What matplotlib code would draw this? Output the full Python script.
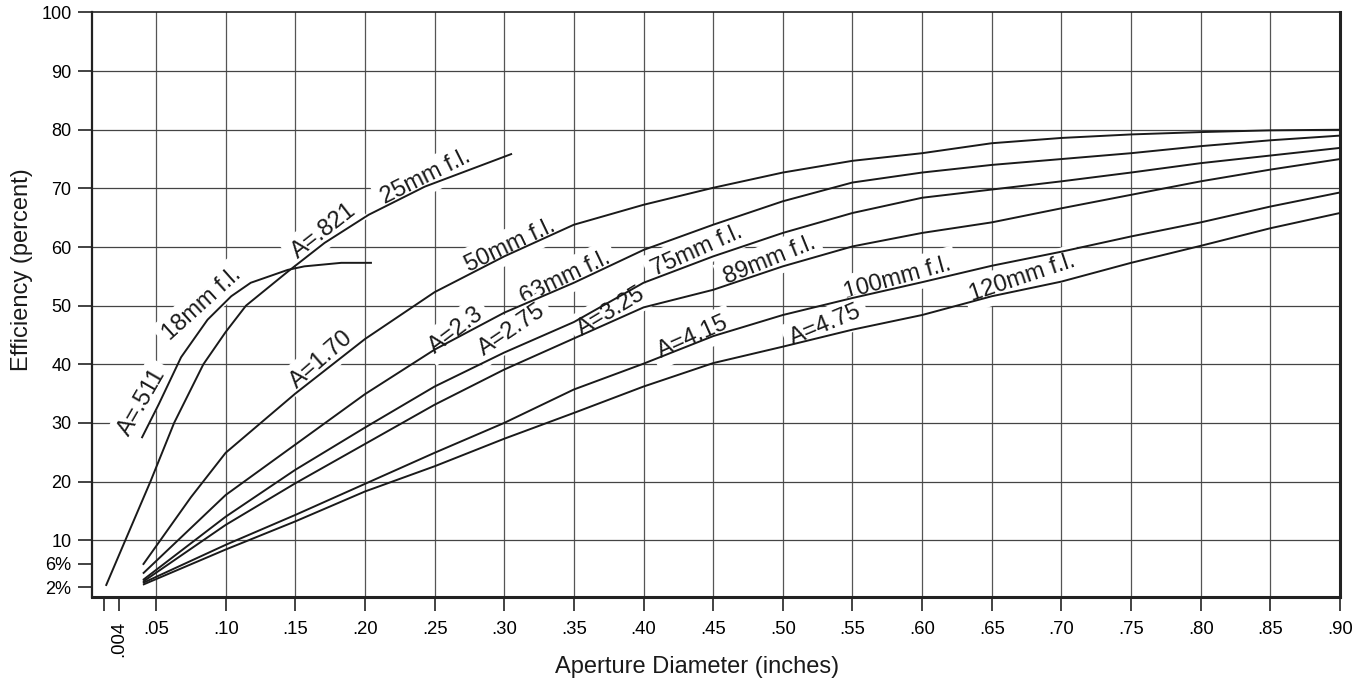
import matplotlib

matplotlib.use("Agg")

import matplotlib.pyplot as plt  # noqa: E402

plt.rcParams["font.family"] = ["Liberation Sans", "DejaVu Sans"]

# Aperture diameter (inches) -> efficiency (percent).
x_18mm = [0.0397, 0.052, 0.068, 0.087, 0.104, 0.118, 0.1446, 0.1565, 0.183, 0.205]
y_18mm = [27.4, 33.2, 41.2, 47.6, 51.6, 53.9, 56.1, 56.7, 57.3, 57.3]

x_25mm = [0.014, 0.028, 0.046, 0.063, 0.084, 0.100, 0.1146, 0.1446, 0.171,
          0.2027, 0.243, 0.3056]
y_25mm = [2.2, 10.0, 20.0, 30.0, 40.0, 45.5, 50.0, 55.8, 60.7, 65.5, 70.3, 75.9]

x_50mm = [0.0406, 0.075, 0.10, 0.15, 0.20, 0.25, 0.30, 0.35, 0.40, 0.45, 0.50,
          0.55, 0.60, 0.65, 0.70, 0.75, 0.80, 0.85, 0.90]
y_50mm = [5.8, 17.3, 24.9, 35.0, 44.3, 52.3, 58.4, 63.8, 67.2, 70.1, 72.7,
          74.7, 76.0, 77.7, 78.6, 79.2, 79.6, 79.9, 80.0]

x_long = [0.0406, 0.10, 0.15, 0.20, 0.25, 0.30, 0.35, 0.40, 0.45, 0.50, 0.55,
          0.60, 0.65, 0.70, 0.75, 0.80, 0.85, 0.90]
y_63mm = [4.3, 17.7, 26.3, 34.9, 42.5, 48.8, 53.9, 59.5, 63.8, 67.8, 71.0,
          72.7, 74.0, 75.0, 76.0, 77.2, 78.2, 79.0]
y_75mm = [3.2, 14.0, 22.0, 29.2, 36.2, 42.0, 47.2, 53.9, 58.4, 62.4, 65.8,
          68.4, 69.8, 71.2, 72.7, 74.3, 75.6, 76.9]
y_89mm = [2.9, 12.6, 19.7, 26.4, 33.1, 39.1, 44.4, 49.7, 52.7, 56.7, 60.1,
          62.4, 64.2, 66.6, 68.9, 71.2, 73.2, 75.0]
y_100mm = [2.7, 9.2, 14.3, 19.6, 24.9, 30.0, 35.7, 40.1, 44.8, 48.4, 51.3,
           54.0, 56.8, 59.2, 61.8, 64.2, 66.9, 69.3]
y_120mm = [2.4, 8.4, 13.2, 18.3, 22.6, 27.3, 31.7, 36.2, 40.2, 43.0, 45.9,
           48.4, 51.6, 54.1, 57.3, 60.2, 63.2, 65.8]

curves = [
    (x_18mm, y_18mm),
    (x_25mm, y_25mm),
    (x_50mm, y_50mm),
    (x_long, y_63mm),
    (x_long, y_75mm),
    (x_long, y_89mm),
    (x_long, y_100mm),
    (x_long, y_120mm),
]

# curve annotations: text, centre (data coords), angle
curve_labels = [
    ("A=.511", 0.0400, 33.6, 60),
    ("18mm f.l.", 0.0830, 50.3, 42),
    ("A=.821", 0.1703, 62.7, 38),
    ("25mm f.l.", 0.2439, 71.9, 26.5),
    ("A=1.70", 0.1685, 40.8, 41),
    ("50mm f.l.", 0.3042, 60.3, 25.5),
    ("A=2.3", 0.2653, 45.8, 37),
    ("63mm f.l.", 0.3437, 54.8, 25.5),
    ("A=2.75", 0.3054, 45.8, 34),
    ("75mm f.l.", 0.4382, 59.4, 24),
    ("A=3.25", 0.3765, 49.0, 31),
    ("89mm f.l.", 0.4903, 57.7, 22),
    ("A=4.15", 0.4352, 44.6, 24),
    ("100mm f.l.", 0.5824, 54.7, 15.5),
    ("A=4.75", 0.5309, 46.7, 22.5),
    ("120mm f.l.", 0.6722, 54.7, 18.5),
]

x_ticks = [0.013, 0.0234, 0.05, 0.10, 0.15, 0.20, 0.25, 0.30, 0.35, 0.40, 0.45,
           0.50, 0.55, 0.60, 0.65, 0.70, 0.75, 0.80, 0.85, 0.90]
x_tick_labels = ["", ".004", ".05", ".10", ".15", ".20", ".25", ".30", ".35",
                 ".40", ".45", ".50", ".55", ".60", ".65", ".70", ".75", ".80",
                 ".85", ".90"]
y_ticks = [2, 6, 10, 20, 30, 40, 50, 60, 70, 80, 90, 100]
y_tick_labels = ["2%", "6%", "10", "20", "30", "40", "50", "60", "70", "80",
                 "90", "100"]
x_grid = [0.05, 0.10, 0.15, 0.20, 0.25, 0.30, 0.35, 0.40, 0.45, 0.50, 0.55,
          0.60, 0.65, 0.70, 0.75, 0.80, 0.85]
y_grid = [10, 20, 30, 40, 50, 60, 70, 80, 90]

fig = plt.figure(figsize=(13.64, 6.82), dpi=100)
ax = fig.add_axes([0.0671, 0.1246, 0.9153, 0.8571])
ax.set_xlim(0.0037, 0.90)
ax.set_ylim(0.3, 100)

for gx in x_grid:
    ax.axvline(gx, color="#555555", lw=0.9, zorder=1)
for gy in y_grid:
    ax.axhline(gy, color="#444444", lw=0.9, zorder=1)

for xs, ys in curves:
    ax.plot(xs, ys, color="#1a1a1a", lw=1.4, zorder=4, solid_capstyle="butt")

for text, lx, ly, rot in curve_labels:
    ax.text(lx, ly, text, fontsize=17, rotation=rot, rotation_mode="anchor",
            ha="center", va="center", color="#1a1a1a", zorder=3,
            bbox=dict(boxstyle="square,pad=0.25", fc="white", ec="none"))

ax.set_xticks(x_ticks)
ax.set_xticklabels(x_tick_labels, fontsize=13.3)
ax.get_xticklabels()[1].set_rotation(90)
ax.set_yticks(y_ticks)
ax.set_yticklabels(y_tick_labels, fontsize=13)
ax.tick_params(axis="x", length=10, width=1.2, pad=7, color="#222222")
ax.tick_params(axis="y", length=10, width=1.2, pad=4.5, color="#222222")

ax.spines["left"].set_linewidth(1.6)
ax.spines["bottom"].set_linewidth(2.2)
ax.spines["right"].set_linewidth(2.2)
ax.spines["top"].set_linewidth(1.2)
for side in ax.spines.values():
    side.set_color("#222222")

fig.text(22 / 1364, 1 - 270 / 682, "Efficiency (percent)", rotation=90,
         ha="center", va="center", fontsize=17, color="#1a1a1a")
fig.text(697 / 1364, 1 - 667 / 682, "Aperture Diameter (inches)",
         ha="center", va="center", fontsize=17, color="#1a1a1a")

fig.savefig("out.png", dpi=100)
